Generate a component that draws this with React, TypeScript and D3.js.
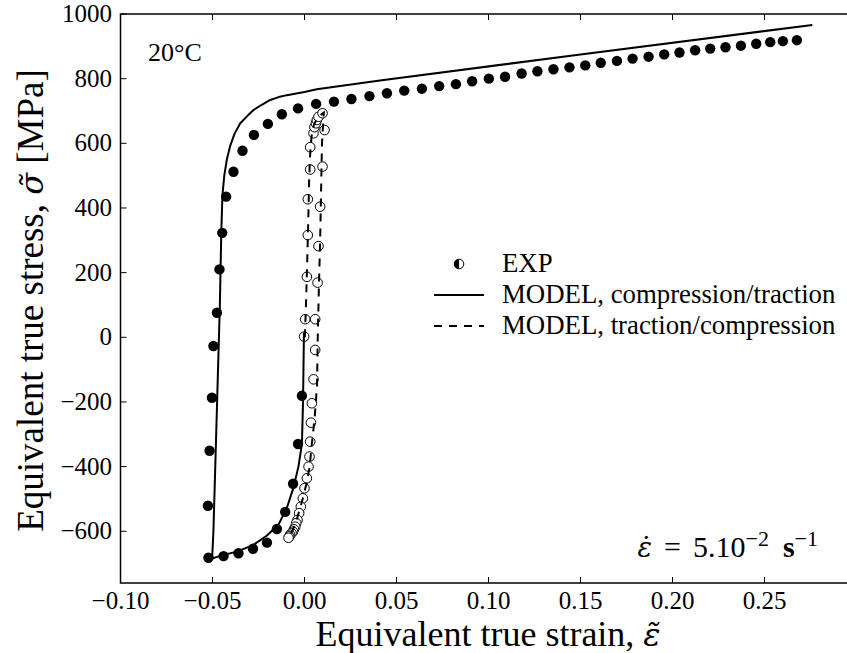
import React from "react";
import * as d3 from "d3";

// EXP, compression/traction (filled)
const expCTStrain = [-0.0014, -0.0035, -0.0062, -0.0105, -0.015, -0.0204, -0.028, -0.0359, -0.044, -0.0522,
  -0.0525, -0.0516, -0.0503, -0.0495, -0.0476, -0.0462, -0.0447, -0.0426, -0.0386, -0.0337, -0.0275, -0.0199,
  -0.0123, -0.0035, 0.0063, 0.016, 0.0255, 0.0353, 0.0448, 0.0542, 0.0638, 0.0732, 0.0823, 0.0911, 0.1002,
  0.109, 0.118, 0.1266, 0.1353, 0.144, 0.1526, 0.161, 0.1698, 0.1783, 0.187, 0.1955, 0.2038, 0.2123, 0.2205,
  0.2288, 0.2372, 0.2455, 0.2531, 0.26, 0.2676];
const expCTStress = [-181, -330, -453, -540, -593, -635, -654, -668, -677, -682,
  -521, -351, -187, -27, 76, 210, 323, 435, 512, 577, 626, 660,
  690, 708, 722, 729, 737, 746, 755, 763, 769, 777, 783, 792, 800,
  806, 816, 823, 829, 835, 841, 849, 855, 862, 868, 875, 881, 888, 893,
  897, 902, 908, 913, 916, 919];

// EXP, traction/compression (open)
const expTCStrain = [-0.0002, 0.0004, 0.0013, 0.0018, 0.0018, 0.0031, 0.0031, 0.0049, 0.0054, 0.0062, 0.0067,
  0.0076, 0.0098, 0.0109, 0.0098, 0.0085, 0.0076, 0.0071, 0.0058, 0.0058, 0.0049, 0.004, 0.0035, 0.0031,
  0.0027, 0.0022, 0.0013, 0.0, -0.0009, -0.002, -0.0029, -0.0038, -0.0045, -0.005, -0.0057, -0.0063, -0.007,
  -0.0078, -0.0083, -0.0087];
const expTCStress = [2, 56, 187, 316, 427, 519, 588, 631, 650, 662, 672,
  682, 693, 641, 528, 404, 282, 169, 56, -39, -130, -204, -264, -323,
  -369, -400, -436, -467, -498, -524, -544, -565, -575, -586, -594, -601, -606,
  -611, -616, -620];

// MODEL, compression/traction (solid)
const modelCTStrain = [-0.0003, -0.0008, -0.0014, -0.0033, -0.006, -0.0096, -0.014, -0.0204, -0.0277, -0.0367,
  -0.0458, -0.0502, -0.0495, -0.0475, -0.046, -0.0452, -0.0446, -0.0436, -0.0422, -0.0404, -0.038, -0.0349, -0.031,
  -0.0277, -0.023, -0.0186, -0.014, -0.0096, 0.0, 0.0067, 0.041, 0.15, 0.276];
const modelCTStress = [15, -200, -330, -400, -465, -528, -578, -613, -642, -663,
  -676, -684, -600, -200, 100, 330, 440, 500, 550, 592, 630, 662, 685,
  703, 720, 734, 743, 749, 759, 767, 794, 875, 966];

// MODEL, traction/compression (dashed)
const modelTCStrain = [0.0002, 0.0008, 0.0013, 0.002, 0.0025, 0.003, 0.0038, 0.005, 0.007, 0.0105,
  0.0095, 0.009, 0.0085, 0.0078, 0.0072, 0.0068, 0.0055, 0.004, 0.0028, 0.0012, -0.001, -0.004, -0.0065, -0.0088];
const modelTCStress = [0, 100, 200, 350, 480, 560, 620, 655, 680, 695,
  600, 450, 300, 150, 0, -150, -250, -330, -400, -450, -500, -560, -598, -622];

const xTicks = [-0.1, -0.05, 0.0, 0.05, 0.1, 0.15, 0.2, 0.25, 0.3];
const yTicks = [-600, -400, -200, 0, 200, 400, 600, 800, 1000];

const legendLabels = ["EXP", "MODEL, compression/traction", "MODEL, traction/compression"];

const W = 847, H = 653;
const L = 120.5, R = 856.5, T = 14, B = 583;
const FONT = "'Liberation Serif', 'DejaVu Serif', serif";
const MARKFONT = "'DejaVu Serif', serif";

export default function App() {
  const x = d3.scaleLinear().domain([-0.1, 0.3]).range([L, R]);
  const y = d3.scaleLinear().domain([-760, 1000]).range([B, T]);
  const lineL = d3.line<[number, number]>().x(d => x(d[0])).y(d => y(d[1]));
  const ct: [number, number][] = modelCTStrain.map((s, i) => [s, modelCTStress[i]]);
  const tc: [number, number][] = modelTCStrain.map((s, i) => [s, modelTCStress[i]]);
  const fmtX = (v: number) => (v < 0 ? "\u2212" : "") + Math.abs(v).toFixed(2);
  const fmtY = (v: number) => (v < 0 ? "\u2212" : "") + Math.abs(v).toString();
  const tick = 6;
  const legY = [264, 295, 326];
  return (
    <svg width={W} height={H} style={{ position: "absolute", left: 0, top: 0, background: "#fff" }}
      fontFamily={FONT}>
      <defs>
        <clipPath id="plot"><rect x={L} y={T} width={R - L} height={B - T} /></clipPath>
      </defs>
      <rect x={0} y={0} width={W} height={H} fill="#fff" />
      <g clipPath="url(#plot)">
        {expTCStrain.map((s, i) => (
          <circle key={"o" + i} cx={x(s)} cy={y(expTCStress[i])} r={4.8} fill="#fff" stroke="#000" strokeWidth={1} />
        ))}
        <path d={lineL(tc) || ""} fill="none" stroke="#000" strokeWidth={2} strokeDasharray="8,7" />
        <path d={lineL(ct) || ""} fill="none" stroke="#000" strokeWidth={2} strokeLinejoin="round" />
        {expCTStrain.map((s, i) => (
          <circle key={"f" + i} cx={x(s)} cy={y(expCTStress[i])} r={5.2} fill="#000" />
        ))}
      </g>
      <rect x={L} y={T} width={R - L} height={B - T} fill="none" stroke="#000" strokeWidth={1.5} />
      {xTicks.map(v => (
        <g key={"xt" + v}>
          <line x1={x(v)} x2={x(v)} y1={B} y2={B - tick} stroke="#000" strokeWidth={1} />
          <line x1={x(v)} x2={x(v)} y1={T} y2={T + tick} stroke="#000" strokeWidth={1} />
          {x(v) + 25 < W && (
            <text x={x(v)} y={609} textAnchor="middle" fontSize={25}>{fmtX(v)}</text>
          )}
        </g>
      ))}
      {yTicks.map(v => (
        <g key={"yt" + v}>
          <line x1={L} x2={L + tick} y1={y(v)} y2={y(v)} stroke="#000" strokeWidth={1} />
          <line x1={R} x2={R - tick} y1={y(v)} y2={y(v)} stroke="#000" strokeWidth={1} />
          <text x={112} y={y(v) + 8} textAnchor="end" fontSize={25}>{fmtY(v)}</text>
        </g>
      ))}
      <text x={488} y={646} textAnchor="middle" fontSize={36}>
        Equivalent true strain, <tspan fontFamily={MARKFONT} fontStyle="italic" fontSize={32}>ε̃</tspan>
      </text>
      <text transform={`translate(43,${(T + B) / 2 + 2}) rotate(-90)`} textAnchor="middle" fontSize={37}>
        Equivalent true stress, <tspan fontFamily={MARKFONT} fontStyle="italic" fontSize={32}>σ̃</tspan> [MPa]
      </text>
      <text x={148} y={61} fontSize={26}>20°C</text>
      <text x={818} y={557} fontSize={30} textAnchor="end">
        <tspan fontFamily={MARKFONT} fontStyle="italic" fontSize={27}>ε̇</tspan>
        <tspan dx={12}>=</tspan>
        <tspan dx={12}>5.10</tspan>
        <tspan dy={-11} fontSize={22}>−2</tspan>
        <tspan dx={14} dy={11} fontWeight="bold">s</tspan>
        <tspan dy={-11} fontSize={22}>−1</tspan>
      </text>
      <g>
        <circle cx={459} cy={legY[0]} r={4.8} fill="#fff" stroke="#000" strokeWidth={1} />
        <path d={`M459,${legY[0] - 4.8} A4.8,4.8 0 0,0 459,${legY[0] + 4.8} Z`} fill="#000" />
        <line x1={434} x2={484} y1={legY[1]} y2={legY[1]} stroke="#000" strokeWidth={2} />
        <line x1={434} x2={484} y1={legY[2]} y2={legY[2]} stroke="#000" strokeWidth={2} strokeDasharray="8,7" />
        {legendLabels.map((t, i) => (
          <text key={t} x={502} y={legY[i] + 8} fontSize={26.8}>{t}</text>
        ))}
      </g>
    </svg>
  );
}
